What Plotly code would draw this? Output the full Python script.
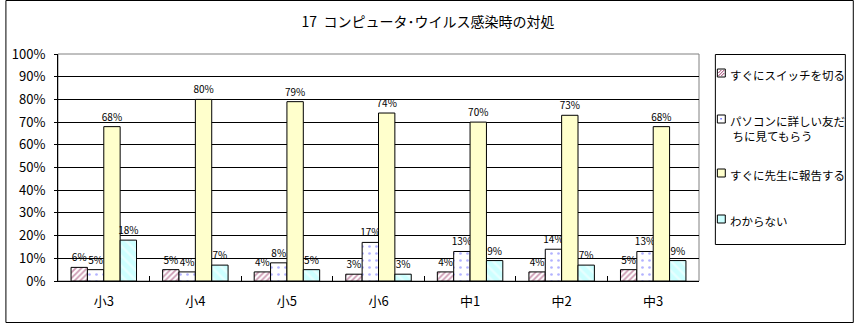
import plotly.graph_objects as go

categories = ["小3", "小4", "小5", "小6", "中1", "中2", "中3"]
series_names = ["すぐにスイッチを切る", "パソコンに詳しい友だ<br> ちに見てもらう", "すぐに先生に報告する", "わからない"]
switch_off = [6, 5, 4, 3, 4, 4, 5]
ask_friend = [5, 4, 8, 17, 13, 14, 13]
tell_teacher = [68, 80, 79, 74, 70, 73, 68]
dont_know = [18, 7, 5, 3, 9, 7, 9]
y_ticks = [0, 10, 20, 30, 40, 50, 60, 70, 80, 90, 100]
y_tick_labels = [f"{v}%" for v in y_ticks]

FONT = "Noto Sans CJK JP"
styles = [
    dict(color="white", pattern=dict(shape="/", fgcolor="#993366", bgcolor="white", size=4, solidity=0.45)),
    dict(color="white", pattern=dict(shape=".", fgcolor="#6666ff", bgcolor="white", size=7, solidity=0.12)),
    dict(color="#FFFFCC"),
    dict(color="#CCFFFF", pattern=dict(shape="\\", fgcolor="white", bgcolor="#CCFFFF", size=7, solidity=0.35)),
]
legend_fill = ["white", "white", "#FFFFCC", "#CCFFFF"]
values = [switch_off, ask_friend, tell_teacher, dont_know]

fig = go.Figure()
for name, vals, st in zip(series_names, values, styles):
    marker = dict(color=st["color"], line=dict(color="black", width=1))
    if "pattern" in st:
        marker["pattern"] = st["pattern"]
    fig.add_trace(go.Bar(
        x=categories, y=vals, name=name,
        marker=marker,
        text=[f"{v}%" for v in vals], textposition="outside",
        constraintext="none",
        textfont=dict(family=FONT, size=10, color="black"),
        cliponaxis=False, showlegend=False,
    ))

W, H = 855, 323
ml, mr, mt, mb = 53, 156, 54, 42
pw, ph = W - ml - mr, H - mt - mb

def px_x(p):
    return (p - ml) / pw

def px_y(p):
    return (H - mb - p) / ph

shapes = [
    dict(type="rect", xref="paper", yref="paper", x0=0, x1=1, y0=0, y1=1,
         line=dict(color="#808080", width=1), layer="below"),
    dict(type="rect", xref="paper", yref="paper",
         x0=px_x(0.5), x1=px_x(W - 0.5), y0=px_y(H - 0.5), y1=px_y(0.5),
         line=dict(color="black", width=1)),
    # legend box
    dict(type="rect", xref="paper", yref="paper",
         x0=px_x(715.5), x1=px_x(846.5), y0=px_y(244.5), y1=px_y(54.5),
         line=dict(color="black", width=1), fillcolor="white"),
]
annotations = []
legend_rows = [73, 119, 173, 219]
for i, (name, yc) in enumerate(zip(series_names, legend_rows)):
    x0, x1 = 717.5, 725.5
    y0, y1 = yc - 4, yc + 4
    shapes.append(dict(type="rect", xref="paper", yref="paper",
                       x0=px_x(x0), x1=px_x(x1), y0=px_y(y1), y1=px_y(y0),
                       line=dict(color="black", width=1), fillcolor=legend_fill[i]))
    if i == 0:
        for d in (0, 3, -3):
            shapes.append(dict(type="line", xref="paper", yref="paper",
                               x0=px_x(x0 + 1 + max(0, d)), y0=px_y(y1 - 1 - max(0, -d)),
                               x1=px_x(x1 - 1 - max(0, -d)), y1=px_y(y0 + 1 + max(0, d)),
                               line=dict(color="#993366", width=1)))
    if i == 1:
        shapes.append(dict(type="rect", xref="paper", yref="paper",
                           x0=px_x(720.5), x1=px_x(722), y0=px_y(yc + 0.5), y1=px_y(yc - 1),
                           line=dict(width=0), fillcolor="#6666ff"))
    annotations.append(dict(
        text=name, xref="paper", yref="paper", x=px_x(728), y=px_y(yc - 8),
        xanchor="left", yanchor="top", showarrow=False, align="left",
        font=dict(family=FONT, size=11.5, color="black")))

fig.update_layout(
    width=W, height=H,
    margin=dict(l=ml, r=mr, t=mt, b=mb, pad=0),
    paper_bgcolor="white", plot_bgcolor="white",
    barmode="group", bargap=0.285, bargroupgap=0,
    font=dict(family=FONT, size=12, color="black"),
    title=dict(text="17  コンピュータ･ウイルス感染時の対処", x=428 / W, xref="container", xanchor="center",
               y=1 - 22 / H, yref="container", yanchor="middle", font=dict(family=FONT, size=14)),
    showlegend=False,
    shapes=shapes,
    annotations=annotations,
)
fig.update_yaxes(range=[0, 100], tickvals=y_ticks, ticktext=y_tick_labels,
                 showgrid=True, gridcolor="black", gridwidth=1,
                 showline=True, linecolor="black", linewidth=1,
                 ticks="outside", ticklen=3, tickcolor="black",
                 ticklabelstandoff=6,
                 tickfont=dict(family=FONT, size=13), zeroline=False)
fig.update_xaxes(type="category", showline=True, linecolor="black", linewidth=1,
                 ticks="inside", ticklen=5, tickson="boundaries", tickcolor="black",
                 ticklabelstandoff=8,
                 tickfont=dict(family=FONT, size=13), showgrid=False)

fig.write_html("out.html")
